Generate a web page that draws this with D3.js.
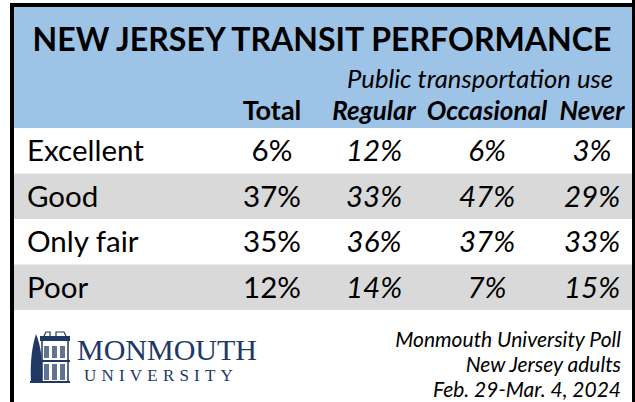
<!DOCTYPE html>
<html>
<head>
<meta charset="utf-8">
<script src="https://cdn.jsdelivr.net/npm/d3@7"></script>
<style>
  body { margin: 0; background: #fff; }
  text { font-family: Lato, "Open Sans", sans-serif; }
  text.serif { font-family: "Liberation Serif", "DejaVu Serif", serif; }
</style>
</head>
<body>
<div id="drawingfield"></div>
<script>
var categories = ["Excellent", "Good", "Only fair", "Poor"];
var columns = ["Total", "Regular", "Occasional", "Never"];
var total = [6, 37, 35, 12];
var regular = [12, 33, 36, 14];
var occasional = [6, 47, 37, 7];
var never = [3, 29, 33, 15];
var series = [total, regular, occasional, never];
var footnotes = ["Monmouth University Poll", "New Jersey adults", "Feb. 29-Mar. 4, 2024"];

var width = 635;
var height = 402;

var svg = d3.select("#drawingfield")
  .append("svg")
  .attr("width", width)
  .attr("height", height);

// row bands and column centres
var y = d3.scaleBand().domain(categories).range([128, 310]);
var x = d3.scaleOrdinal().domain(columns).range([272, 374, 487, 592]);

// header background
svg.append("rect")
  .attr("x", 14).attr("y", 7)
  .attr("width", 618).attr("height", 121)
  .attr("fill", "#9dc3e6");

// shaded rows
svg.selectAll(".band")
  .data(categories)
  .enter()
  .append("rect")
  .attr("class", "band")
  .attr("x", 14)
  .attr("y", function(d) { return y(d); })
  .attr("width", 618)
  .attr("height", y.bandwidth())
  .attr("fill", function(d, i) { return i % 2 ? "#d9d9d9" : "#fff"; });

// frame
svg.append("rect").attr("x", 10).attr("y", 3).attr("width", 625).attr("height", 4).attr("fill", "#000");
svg.append("rect").attr("x", 10).attr("y", 3).attr("width", 4).attr("height", 399).attr("fill", "#000");
svg.append("rect").attr("x", 632).attr("y", 0).attr("width", 3).attr("height", 402).attr("fill", "#000");

// title
svg.append("text")
  .attr("x", 322).attr("y", 51)
  .attr("text-anchor", "middle")
  .attr("font-weight", 700)
  .attr("font-size", 33)
  .attr("textLength", 579)
  .attr("lengthAdjust", "spacingAndGlyphs")
  .text("NEW JERSEY TRANSIT PERFORMANCE");

svg.append("text")
  .attr("x", 613).attr("y", 88)
  .attr("text-anchor", "end")
  .attr("font-style", "italic")
  .attr("font-size", 25)
  .attr("textLength", 266)
  .attr("lengthAdjust", "spacingAndGlyphs")
  .text("Public transportation use");

// column headers
svg.selectAll(".colhead")
  .data(columns)
  .enter()
  .append("text")
  .attr("class", "colhead")
  .attr("x", function(d) { return x(d); })
  .attr("y", 120)
  .attr("text-anchor", "middle")
  .attr("font-weight", 700)
  .attr("font-style", function(d, i) { return i ? "italic" : "normal"; })
  .attr("font-size", function(d, i) { return i ? 26 : 27; })
  .text(function(d) { return d; });

// row labels
svg.selectAll(".rowlabel")
  .data(categories)
  .enter()
  .append("text")
  .attr("class", "rowlabel")
  .attr("x", 27)
  .attr("y", function(d) { return y(d) + 33; })
  .attr("font-size", 29.5)
  .text(function(d) { return d; });

// cell values
columns.forEach(function(c, ci) {
  svg.selectAll(".cell" + ci)
    .data(series[ci])
    .enter()
    .append("text")
    .attr("x", x(c))
    .attr("y", function(d, i) { return y(categories[i]) + 33; })
    .attr("text-anchor", "middle")
    .attr("font-size", 29.5)
    .attr("font-style", ci ? "italic" : "normal")
    .text(function(d) { return d + "%"; });
});

// footnote
svg.selectAll(".foot")
  .data(footnotes)
  .enter()
  .append("text")
  .attr("x", 621)
  .attr("y", function(d, i) { return 347 + i * 25; })
  .attr("text-anchor", "end")
  .attr("font-style", "italic")
  .attr("font-size", 21)
  .text(function(d) { return d; });

// university logo
var navy = "#203864";
var logo = svg.append("g").attr("transform", "translate(30,332)");
// tree
logo.append("path")
  .attr("d", "M6,2 C2,14 0,30 1,50 L12,50 C13,30 11,14 6,2 Z")
  .attr("fill", navy);
// tower
logo.append("rect").attr("x", 12).attr("y", 8).attr("width", 26).attr("height", 42)
  .attr("fill", "none").attr("stroke", navy).attr("stroke-width", 1.5);
logo.append("rect").attr("x", 10).attr("y", 4).attr("width", 30).attr("height", 5).attr("fill", navy);
logo.append("path").attr("d", "M14,4 L16,0 L20,0 L20,4 M26,4 L26,0 L34,0 L36,4")
  .attr("fill", "none").attr("stroke", navy).attr("stroke-width", 1.2);
[14, 22, 30].forEach(function(wx) {
  logo.append("rect").attr("x", wx).attr("y", 14).attr("width", 5).attr("height", 12).attr("fill", navy).attr("opacity", 0.7);
  logo.append("rect").attr("x", wx).attr("y", 32).attr("width", 5).attr("height", 16).attr("fill", navy).attr("opacity", 0.7);
});
logo.append("rect").attr("x", 10).attr("y", 28).attr("width", 30).attr("height", 2).attr("fill", navy);
logo.append("rect").attr("x", 0).attr("y", 49).attr("width", 40).attr("height", 2).attr("fill", navy);

svg.append("text")
  .attr("class", "serif")
  .attr("x", 77).attr("y", 360)
  .attr("font-size", 30)
  .attr("fill", navy)
  .attr("textLength", 180)
  .attr("lengthAdjust", "spacingAndGlyphs")
  .text("MONMOUTH");

svg.append("text")
  .attr("class", "serif")
  .attr("x", 84).attr("y", 381)
  .attr("font-size", 17)
  .attr("letter-spacing", 5.2)
  .attr("fill", navy)
  .text("UNIVERSITY");
</script>
</body>
</html>
